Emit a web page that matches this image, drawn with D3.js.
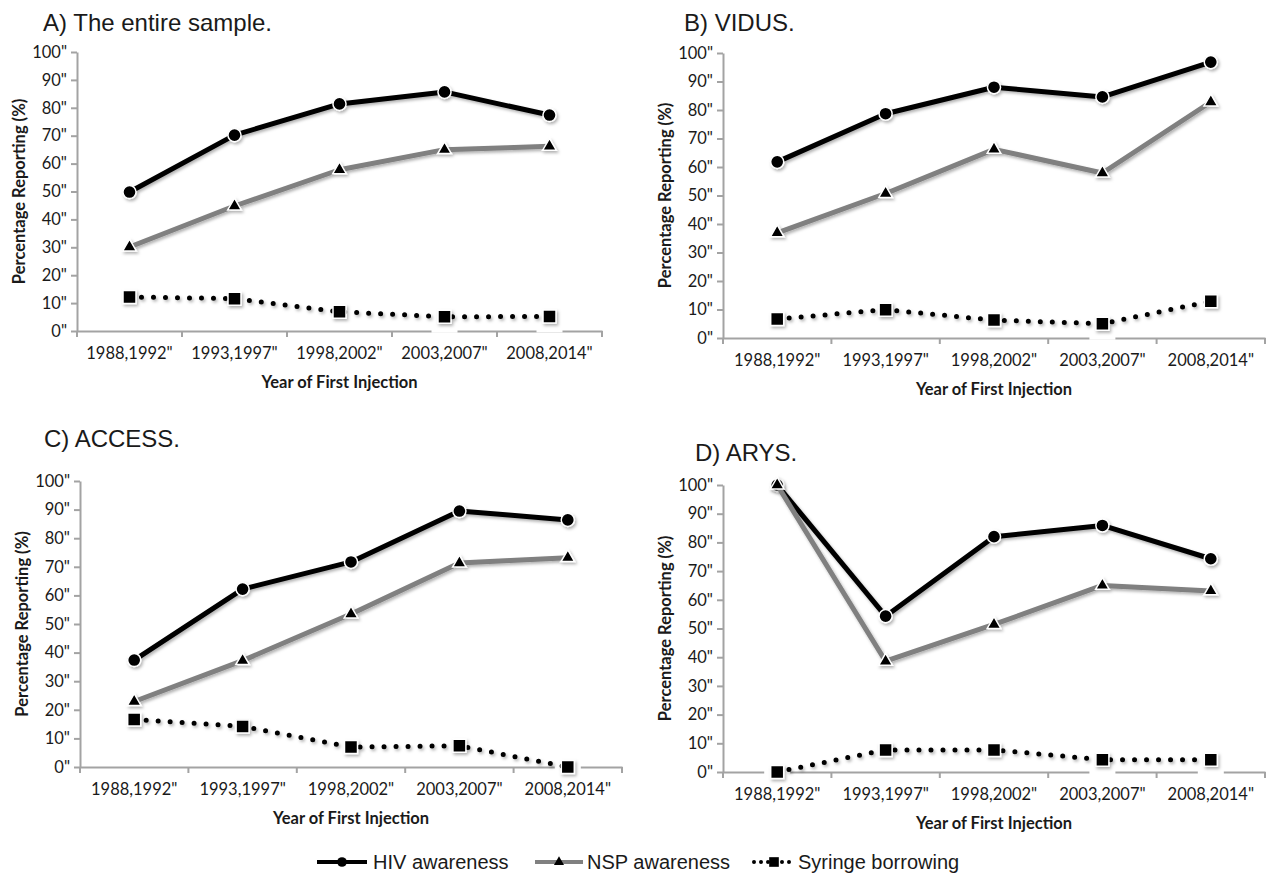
<!DOCTYPE html>
<html>
<head>
<meta charset="utf-8">
<script src="https://cdn.jsdelivr.net/npm/d3@7"></script>
<style>
  body { margin: 0; background: #fff; }
  svg { display: block; }
  .tick text { font-family: Lato, sans-serif; font-size: 16.5px; fill: #1a1a1a; }
  .axis-title { font-family: Lato, sans-serif; font-size: 16.5px; font-weight: bold; fill: #1a1a1a; }
  .panel-title { font-family: "Liberation Sans", Arial, sans-serif; font-size: 24px; fill: #1a1a1a; }
  .legend text { font-family: "Liberation Sans", Arial, sans-serif; font-size: 20px; fill: #1a1a1a; }
</style>
</head>
<body>
<div id="chart"></div>
<script>
// categories and tick labels
var categories = ['1988,1992"', '1993,1997"', '1998,2002"', '2003,2007"', '2008,2014"'];
var yTicks = [0, 10, 20, 30, 40, 50, 60, 70, 80, 90, 100];
var panelTitles = ["A) The entire sample.", "B) VIDUS.", "C) ACCESS.", "D) ARYS."];
var seriesNames = ["HIV awareness", "NSP awareness", "Syringe borrowing"];

// values (percent)
var hivA = [49.8, 70.2, 81.4, 85.7, 77.4];
var nspA = [30.1, 44.8, 57.8, 65.0, 66.2];
var syrA = [12.2, 11.6, 6.9, 5.1, 5.2];

var hivB = [61.8, 78.7, 88.0, 84.6, 96.8];
var nspB = [36.9, 50.7, 66.2, 57.9, 82.8];
var syrB = [6.7, 9.9, 6.3, 5.0, 12.9];

var hivC = [37.4, 62.2, 71.7, 89.5, 86.4];
var nspC = [22.9, 37.2, 53.5, 71.3, 73.2];
var syrC = [16.6, 14.2, 7.0, 7.4, 0];

var hivD = [100, 54.3, 82.0, 85.9, 74.3];
var nspD = [100, 38.6, 51.4, 65.0, 63.1];
var syrD = [0, 7.7, 7.7, 4.3, 4.3];

// layout of the four panels (pixel frame of each plot area)
var panels = [
  {title: panelTitles[0], tx: 43,  ty: 31,  x0: 77,  x1: 602,  top: 52,  bottom: 331, data: [hivA, nspA, syrA]},
  {title: panelTitles[1], tx: 684, ty: 31,  x0: 723, x1: 1265, top: 53,  bottom: 338, data: [hivB, nspB, syrB]},
  {title: panelTitles[2], tx: 44,  ty: 447, x0: 80,  x1: 622,  top: 481, bottom: 767, data: [hivC, nspC, syrC]},
  {title: panelTitles[3], tx: 695, ty: 461, x0: 723, x1: 1265, top: 485, bottom: 772, data: [hivD, nspD, syrD]}
];

var styles = [
  {color: "#000", dash: null, symbol: d3.symbolCircle, size: 135},
  {color: "#808080", dash: null, symbol: d3.symbolTriangle, size: 80},
  {color: "#000", dash: "0 12", symbol: d3.symbolSquare, size: 169}
];

var svg = d3.select("#chart").append("svg")
  .attr("width", 1277)
  .attr("height", 884);

var defs = svg.append("defs");
defs.append("filter")
  .attr("id", "shadow")
  .attr("x", "-20%").attr("y", "-20%").attr("width", "140%").attr("height", "140%")
  .append("feDropShadow")
  .attr("dx", 1.5).attr("dy", 2)
  .attr("stdDeviation", 1.5)
  .attr("flood-color", "#000")
  .attr("flood-opacity", 0.3);

panels.forEach(function(p) {
  var g = svg.append("g");

  var x = d3.scaleBand().domain(categories).range([p.x0, p.x1]);
  var y = d3.scaleLinear().domain([0, 100]).range([p.bottom, p.top]);

  g.append("text")
    .attr("class", "panel-title")
    .attr("x", p.tx).attr("y", p.ty)
    .text(p.title);

  // y axis
  g.append("g")
    .attr("transform", "translate(" + p.x0 + ",0)")
    .call(d3.axisLeft(y).tickValues(yTicks).tickSize(6).tickSizeOuter(0).tickPadding(4)
      .tickFormat(function(d) { return d + '"'; }));

  // x axis: labels at band centres, ticks at band edges
  var xAxis = g.append("g")
    .attr("transform", "translate(0," + p.bottom + ")")
    .call(d3.axisBottom(x).tickSize(0).tickPadding(16));
  xAxis.selectAll(".tick text").attr("dy", "0.71em");
  xAxis.selectAll(".edge")
    .data(categories.concat(["end"]))
    .enter().append("line")
    .attr("class", "edge")
    .attr("x1", function(d, i) { return p.x0 + i * x.step(); })
    .attr("x2", function(d, i) { return p.x0 + i * x.step(); })
    .attr("y1", 0).attr("y2", 6);

  g.selectAll(".domain, .tick line, .edge")
    .attr("stroke", "#a3a3a3")
    .attr("stroke-width", 2);

  g.append("text")
    .attr("class", "axis-title")
    .attr("text-anchor", "middle")
    .attr("transform", "translate(" + (p.x0 - 58) + "," + ((p.top + p.bottom) / 2) + ") rotate(-90)")
    .attr("dy", "0.35em")
    .text("Percentage Reporting (%)");

  g.append("text")
    .attr("class", "axis-title")
    .attr("text-anchor", "middle")
    .attr("x", (p.x0 + p.x1) / 2)
    .attr("y", p.bottom + 57)
    .text("Year of First Injection");

  var cx = function(d, i) { return x(categories[i]) + x.bandwidth() / 2; };

  // white halo behind markers (cuts the axis line like in the original, not the labels)
  p.data.forEach(function(vals) {
    g.selectAll(null)
      .data(vals)
      .enter().append("rect")
      .attr("x", function(d, i) { return cx(d, i) - 13; })
      .attr("y", function(d) { return y(d) - 8; })
      .attr("width", 26)
      .attr("height", function(d) { return Math.min(y(d) + 16, p.bottom + 3) - (y(d) - 8); })
      .attr("fill", "#fff");
  });

  p.data.forEach(function(vals, s) {
    var st = styles[s];
    var sg = g.append("g").attr("filter", "url(#shadow)");
    var line = d3.line()
      .x(function(d, i) { return cx(d, i); })
      .y(function(d) { return y(d); });
    sg.append("path")
      .datum(vals)
      .attr("fill", "none")
      .attr("stroke", st.color)
      .attr("stroke-width", 5)
      .attr("stroke-linecap", st.dash ? "round" : "butt")
      .attr("stroke-linejoin", "round")
      .attr("stroke-dasharray", st.dash)
      .attr("d", line);
    sg.selectAll(".marker")
      .data(vals)
      .enter().append("path")
      .attr("class", "marker")
      .attr("d", d3.symbol(st.symbol, st.size))
      .attr("transform", function(d, i) { return "translate(" + cx(d, i) + "," + y(d) + ")"; })
      .attr("fill", "#000")
      .attr("stroke", "#fff")
      .attr("stroke-width", 1.5);
  });
});

// legend
var legendItems = [
  {x1: 317, x2: 367, tx: 373},
  {x1: 535, x2: 583, tx: 587},
  {x1: 754, x2: 794, tx: 798}
];
var legend = svg.append("g").attr("class", "legend");
legendItems.forEach(function(it, s) {
  var st = styles[s];
  var lg = legend.append("g");
  lg.append("line")
    .attr("x1", it.x1).attr("x2", it.x2)
    .attr("y1", 862).attr("y2", 862)
    .attr("stroke", s === 1 ? "#808080" : "#000")
    .attr("stroke-width", 4)
    .attr("stroke-linecap", st.dash ? "round" : "butt")
    .attr("stroke-dasharray", st.dash ? "0 7" : null);
  lg.append("path")
    .attr("d", d3.symbol(st.symbol, st.size * 0.55))
    .attr("transform", "translate(" + ((it.x1 + it.x2) / 2) + ",862)")
    .attr("fill", "#000");
  lg.append("text")
    .attr("x", it.tx).attr("y", 869)
    .text(seriesNames[s]);
});
</script>
</body>
</html>
